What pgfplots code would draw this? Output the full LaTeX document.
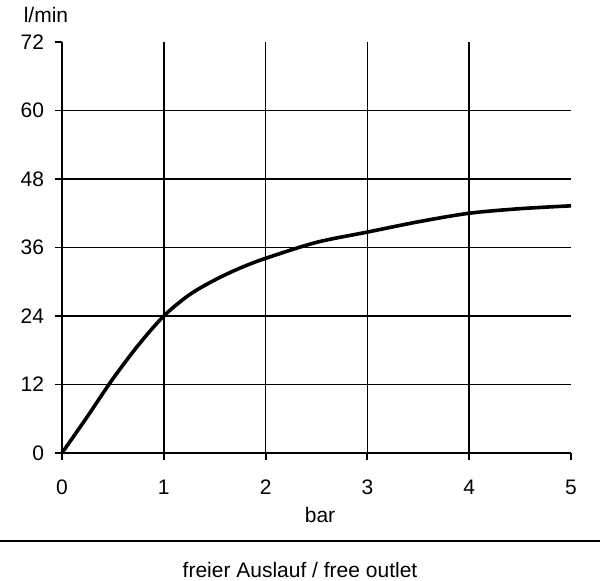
\documentclass[border=0pt]{standalone}
\usepackage{fontspec}
\setmainfont{Liberation Sans}
\usepackage{pgfplots}
\pgfplotsset{compat=1.18}
\begin{document}
\begin{tikzpicture}
\useasboundingbox (-31pt,-64pt) rectangle (269pt,226.5pt);
\begin{axis}[
  at={(0,0)}, anchor=origin,
  scale only axis, width=254.5pt, height=205.5pt,
  xmin=0, xmax=5, ymin=0, ymax=72,
  axis lines=left,
  axis line style={-, line width=0.95pt},
  xtick={0,1,2,3,4,5},
  ytick={0,12,24,36,48,60,72},
  minor xtick={1,2,3,4},
  minor ytick={12,24,36,48,60},
  grid=minor,
  minor grid style={black, line width=0.85pt},
  minor tick length=0pt,
  major tick length=3.5pt,
  tick align=outside,
  tick style={black, line width=0.95pt},
  /pgf/number format/assume math mode=true,
  tick label style={font=\fontsize{10.5}{12}\selectfont},
  xticklabel style={yshift=-6.5pt},
  yticklabel style={xshift=-2pt},
  clip=false,
]
\addplot[black, line width=1.8pt, smooth] coordinates {
  (0,0) (0.25,6.4) (0.5,13) (0.75,18.9) (1,24) (1.25,27.7) (1.5,30.3)
  (1.75,32.4) (2,34.1) (2.5,36.9) (3,38.7) (3.5,40.5) (4,42) (4.5,42.8) (5,43.3)
};
\end{axis}
\node[font=\fontsize{10.5}{12}\selectfont] at (-8pt,219pt) {l/min};
\node[font=\fontsize{10.5}{12}\selectfont] at (129pt,-31pt) {bar};
\draw[black, line width=0.95pt] (-31pt,-44pt) -- (269pt,-44pt);
\node[font=\fontsize{10.5}{12}\selectfont, anchor=base, inner sep=0pt] at (119pt,-62.5pt) {freier Auslauf / free outlet};
\end{tikzpicture}
\end{document}
